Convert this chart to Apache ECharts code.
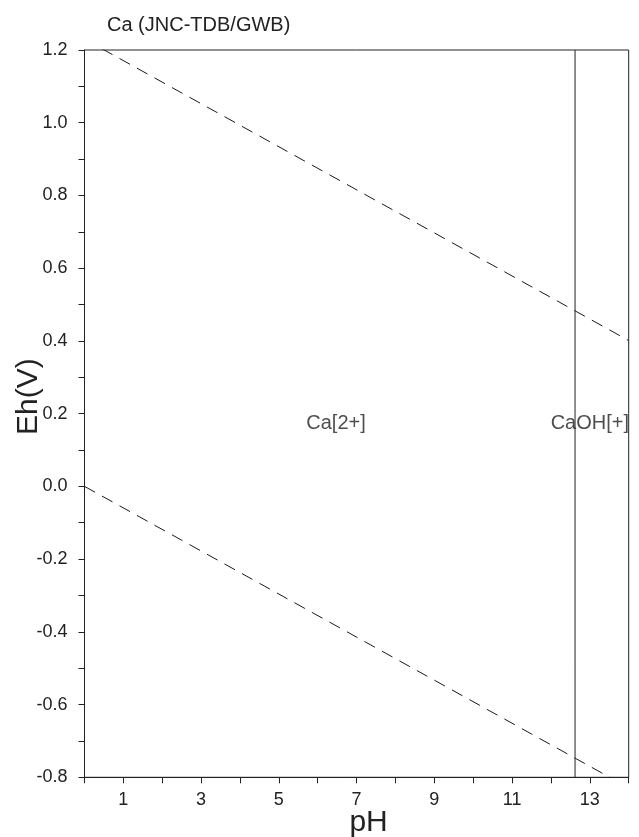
<!DOCTYPE html>
<html><head><meta charset="utf-8">
<script src="https://cdn.jsdelivr.net/npm/echarts@6/dist/echarts.min.js"></script>
<style>html,body{margin:0;padding:0;background:#fff}#c{width:639px;height:837px}</style>
</head><body><div id="c"></div>
<script>
const titleText = 'Ca (JNC-TDB/GWB)';
const xName = 'pH';
const yName = 'Eh(V)';
const upperWater = [[0, 1.23], [14, 0.401]];
const lowerWater = [[0, 0.0], [14, -0.829]];
const boundaryPH = 12.62;
const boundaryLine = [[boundaryPH, -0.8], [boundaryPH, 1.2]];
const speciesNames = ['Ca[2+]', 'CaOH[+]'];
const speciesPos = [[6.47, 0.174], [13.0, 0.174]];

const font = '"Liberation Sans", Arial, Helvetica, sans-serif';
const chart = echarts.init(document.getElementById('c'));
const lineStyleDash = {color: '#1a1a1a', width: 1, type: [12, 8]};
chart.setOption({
  animation: false,
  title: {text: titleText, left: 102, top: 10, textStyle: {fontFamily: font, fontSize: 20, fontWeight: 'normal', color: '#222'}},
  grid: {left: 84.5, right: 10.3, top: 50, bottom: 59.7, show: true, borderColor: '#222', borderWidth: 1,
    containLabel: false, outerBoundsMode: 'none'},
  xAxis: {
    type: 'value', min: 0, max: 14, interval: 1,
    name: xName, nameLocation: 'middle', nameGap: 30, nameMoveOverlap: false,
    nameTextStyle: {fontFamily: font, fontSize: 30, color: '#222', padding: [0, 0, 0, 24]},
    axisLine: {show: true, onZero: false, lineStyle: {color: '#222'}},
    axisTick: {show: true, length: 6, inside: false, lineStyle: {color: '#222'}},
    axisLabel: {fontFamily: font, fontSize: 18, color: '#222', margin: 14,
      formatter: v => (Math.round(v) % 2 === 1 ? String(Math.round(v)) : '')},
    splitLine: {show: false}
  },
  yAxis: {
    type: 'value', min: -0.8, max: 1.2, interval: 0.1,
    name: yName, nameLocation: 'middle', nameGap: 41, nameRotate: 90, nameMoveOverlap: false,
    nameTextStyle: {fontFamily: font, fontSize: 30, color: '#222', padding: [0, 0, 0, 34]},
    axisLine: {show: true, onZero: false, lineStyle: {color: '#222'}},
    axisTick: {show: true, length: 6, inside: false, lineStyle: {color: '#222'}},
    axisLabel: {fontFamily: font, fontSize: 18, color: '#222', margin: 17,
      formatter: v => { const k = Math.round(v * 10); return (k % 2 === 0) ? (k / 10).toFixed(1) : ''; }},
    splitLine: {show: false}
  },
  series: [
    {type: 'line', data: upperWater, symbol: 'none', lineStyle: lineStyleDash, clip: true, silent: true},
    {type: 'line', data: lowerWater, symbol: 'none', lineStyle: lineStyleDash, clip: true, silent: true},
    {type: 'line', data: boundaryLine, symbol: 'none', lineStyle: {color: '#222', width: 1}, clip: true, silent: true},
    {type: 'scatter', symbolSize: 0, silent: true,
      data: speciesNames.map((n, i) => ({value: speciesPos[i], name: n})),
      label: {show: true, position: 'inside', formatter: p => p.name, fontFamily: font, fontSize: 20, color: '#222'}}
  ]
});
</script></body></html>
